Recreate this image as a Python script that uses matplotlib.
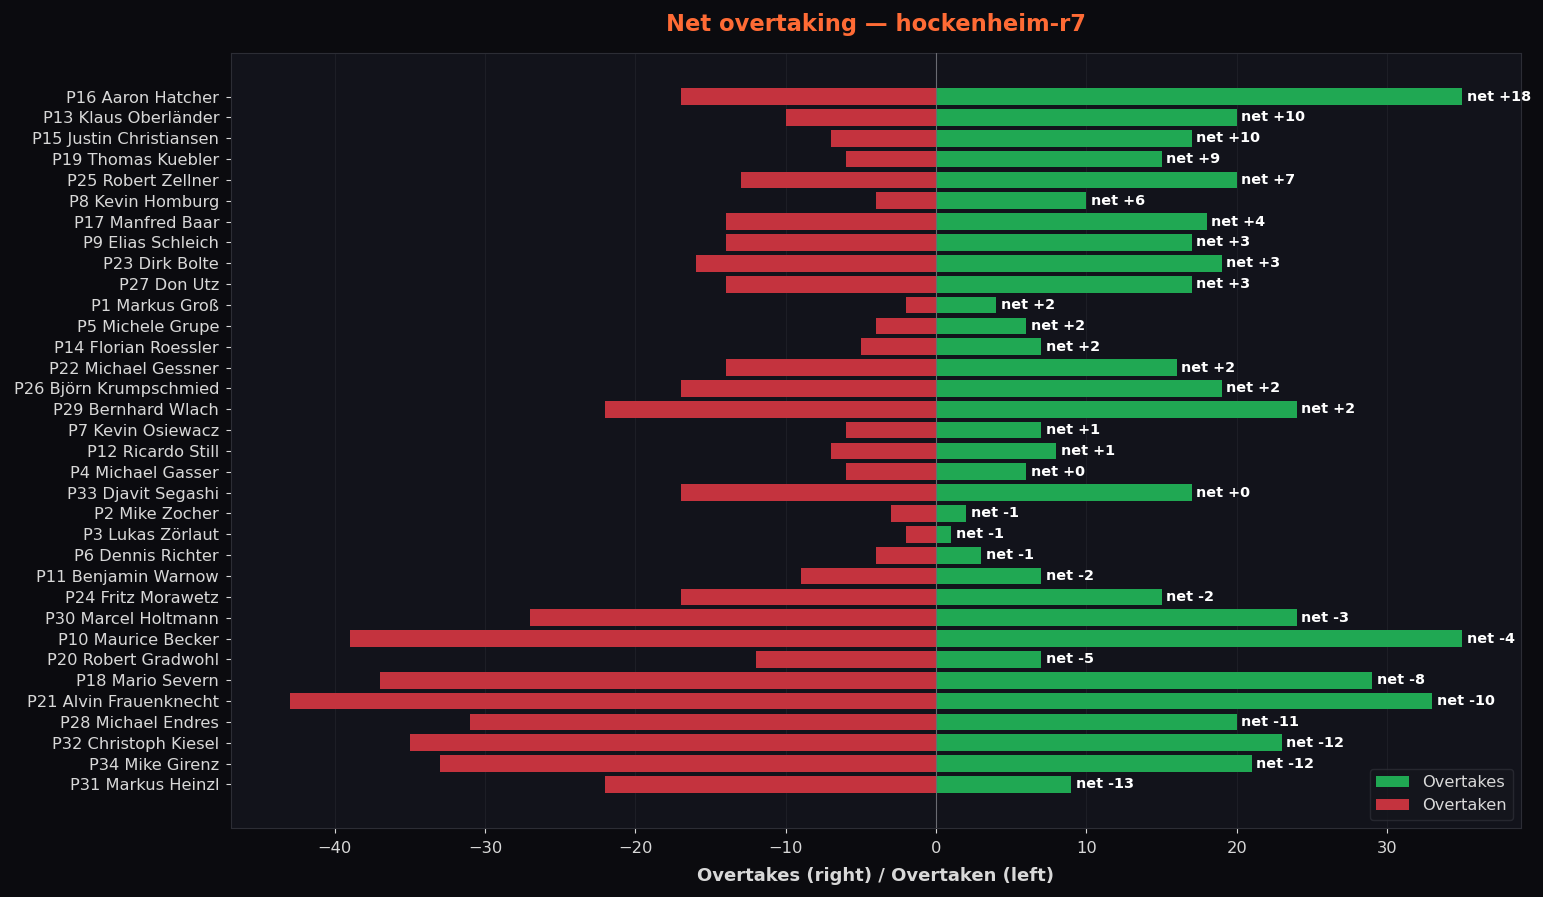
import matplotlib; matplotlib.use("Agg")
import matplotlib.pyplot as plt
import numpy as np

drivers = ["P16 Aaron Hatcher", "P13 Klaus Oberländer", "P15 Justin Christiansen",
           "P19 Thomas Kuebler", "P25 Robert Zellner", "P8 Kevin Homburg",
           "P17 Manfred Baar", "P9 Elias Schleich", "P23 Dirk Bolte", "P27 Don Utz",
           "P1 Markus Groß", "P5 Michele Grupe", "P14 Florian Roessler",
           "P22 Michael Gessner", "P26 Björn Krumpschmied", "P29 Bernhard Wlach",
           "P7 Kevin Osiewacz", "P12 Ricardo Still", "P4 Michael Gasser",
           "P33 Djavit Segashi", "P2 Mike Zocher", "P3 Lukas Zörlaut",
           "P6 Dennis Richter", "P11 Benjamin Warnow", "P24 Fritz Morawetz",
           "P30 Marcel Holtmann", "P10 Maurice Becker", "P20 Robert Gradwohl",
           "P18 Mario Severn", "P21 Alvin Frauenknecht", "P28 Michael Endres",
           "P32 Christoph Kiesel", "P34 Mike Girenz", "P31 Markus Heinzl"]
overtakes = [35, 20, 17, 15, 20, 10, 18, 17, 19, 17, 4, 6, 7, 16, 19, 24, 7, 8, 6,
             17, 2, 1, 3, 7, 15, 24, 35, 7, 29, 33, 20, 23, 21, 9]
overtaken = [17, 10, 7, 6, 13, 4, 14, 14, 16, 14, 2, 4, 5, 14, 17, 22, 6, 7, 6,
             17, 3, 2, 4, 9, 17, 27, 39, 12, 37, 43, 31, 35, 33, 22]

BG = "#0b0b0f"
AX_BG = "#12131b"
TXT = "#d8d8d8"
GREEN = "#20a853"
RED = "#c4333e"

fig = plt.figure(figsize=(15.43, 8.97), dpi=100, facecolor=BG)
ax = fig.add_axes([0.1497, 0.0769, 0.836, 0.864], facecolor=AX_BG)

y = np.arange(len(drivers))
ax.barh(y, overtakes, height=0.8, color=GREEN, label="Overtakes", zorder=2)
ax.barh(y, [-v for v in overtaken], height=0.8, color=RED, label="Overtaken", zorder=2)
ax.axvline(0, color="#6a6b72", lw=0.8, zorder=3)

for i, (a, b) in enumerate(zip(overtakes, overtaken)):
    ax.text(a + 0.3, i, f"net {a - b:+d}", va="center", ha="left",
            fontsize=10.4, fontweight="bold", color="white", zorder=4)

ax.set_yticks(y)
ax.set_yticklabels(drivers, fontsize=11.7, color=TXT)
ax.invert_yaxis()
ax.tick_params(axis="x", colors=TXT, labelsize=11.7, length=3.6, pad=5.5)
ax.tick_params(axis="y", colors=TXT, length=3.6, pad=5)
ax.grid(axis="x", color="#1d1e26", lw=0.8, zorder=0)
for s in ax.spines.values():
    s.set_color("#2c2d35")

ax.set_xlabel("Overtakes (right) / Overtaken (left)", fontsize=13,
              fontweight="bold", color=TXT, labelpad=8)
ax.set_title("Net overtaking — hockenheim-r7", fontsize=16.25, fontweight="bold",
             color="#ff6b35", pad=16)

leg = ax.legend(loc="lower right", fontsize=11.7, facecolor="#15161d",
                edgecolor="#2c2d35", labelcolor=TXT)

fig.savefig("out.png", dpi=100, facecolor=BG)
